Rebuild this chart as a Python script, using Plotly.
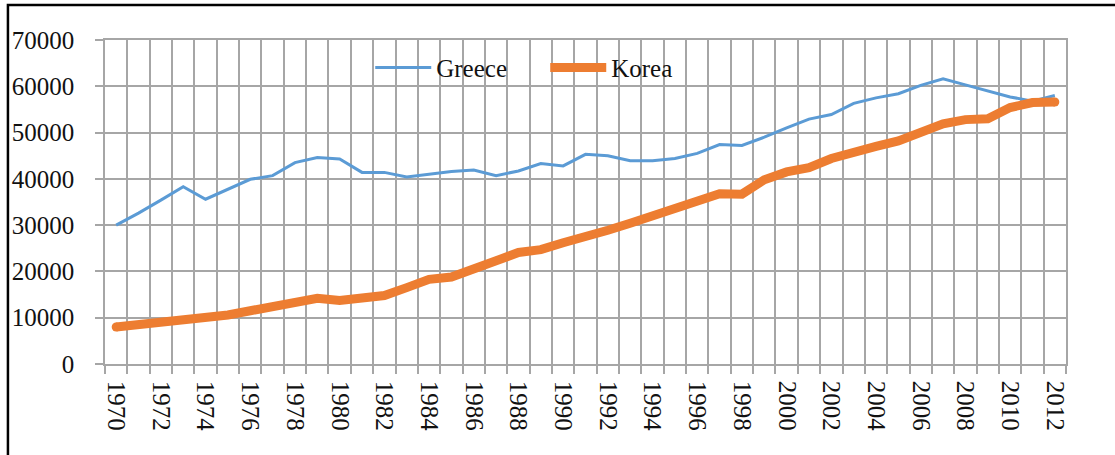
import plotly.graph_objects as go

years = list(range(1970, 2013))
greece = [30000, 32600, 35400, 38300, 35600, 37700, 39900, 40700, 43500, 44600,
          44300, 41400, 41400, 40400, 41000, 41600, 41900, 40700, 41700, 43300,
          42800, 45300, 45000, 43900, 43900, 44400, 45500, 47400, 47200, 49000,
          51000, 52900, 53900, 56300, 57500, 58400, 60200, 61600, 60300, 59000,
          57700, 56800, 58000]
korea = [8000, 8500, 8800, 9600, 10000, 10600, 11500, 12400, 13300, 14200,
         13700, 14200, 14800, 16500, 18300, 18800, 20800, 22300, 24100, 24700,
         26200, 27800, 28900, 30400, 32000, 33900, 35500, 36800, 36700, 39800,
         41500, 42400, 44400, 45500, 47000, 48200, 50100, 51900, 52800, 53000,
         55400, 56500, 56600]
x_labels = [str(y) for y in range(1970, 2013, 2)]
y_ticks = list(range(0, 70001, 10000))

BLUE = "#5B9BD5"
ORANGE = "#ED7D31"
GRID = "#A6A6A6"
FONT = "Liberation Serif"

fig = go.Figure()
fig.add_trace(go.Scatter(x=years, y=greece, name="Greece", mode="lines",
                         line=dict(color=BLUE, width=3)))
fig.add_trace(go.Scatter(x=years, y=korea, name="Korea", mode="lines",
                         line=dict(color=ORANGE, width=9)))
fig.add_trace(go.Scatter(x=[years[0], years[-1]], y=[korea[0], korea[-1]],
                         mode="markers", showlegend=False, hoverinfo="skip",
                         marker=dict(color=ORANGE, size=9, line=dict(width=0))))

boundaries = [y - 0.5 for y in years] + [years[-1] + 0.5]

fig.update_xaxes(
    range=[years[0] - 0.5, years[-1] + 0.5],
    tickmode="array", tickvals=[int(v) for v in x_labels], ticktext=x_labels,
    tickangle=90, ticks="", showgrid=False, zeroline=False,
    showline=True, linecolor=GRID, linewidth=1.5, mirror=True,
    tickfont=dict(family=FONT, size=25, color="#111111"),
    ticklabelstandoff=10,
    minor=dict(tickmode="array", tickvals=boundaries, ticks="outside",
               ticklen=8, tickcolor=GRID, tickwidth=1.5,
               showgrid=True, gridcolor=GRID, gridwidth=1.5),
)
fig.update_yaxes(
    range=[0, 70000], tickmode="array", tickvals=y_ticks,
    ticktext=[str(v) for v in y_ticks],
    ticks="outside", ticklen=8, tickcolor=GRID, tickwidth=1.5,
    showgrid=True, gridcolor=GRID, gridwidth=1.5, zeroline=False,
    showline=True, linecolor=GRID, linewidth=1.5, mirror=True,
    tickfont=dict(family=FONT, size=25, color="#111111"),
    ticklabelstandoff=16,
)

fig.add_shape(type="rect", xref="paper", yref="paper",
              x0=-0.101, x1=1.2, y0=-0.5, y1=1.108,
              line=dict(color="black", width=2.5), layer="above")

fig.update_layout(
    width=1115, height=455,
    margin=dict(l=105, r=49, t=40, b=91),
    paper_bgcolor="white", plot_bgcolor="white",
    showlegend=True,
    legend=dict(orientation="h", x=0.276, y=0.914, xanchor="left", yanchor="middle",
                bgcolor="rgba(0,0,0,0)", font=dict(family=FONT, size=25, color="#111111"),
                itemwidth=56, entrywidth=104, entrywidthmode="pixels"),
)

fig.write_html("out.html", config={"displayModeBar": False},
               post_script="document.body.style.margin='0';")
